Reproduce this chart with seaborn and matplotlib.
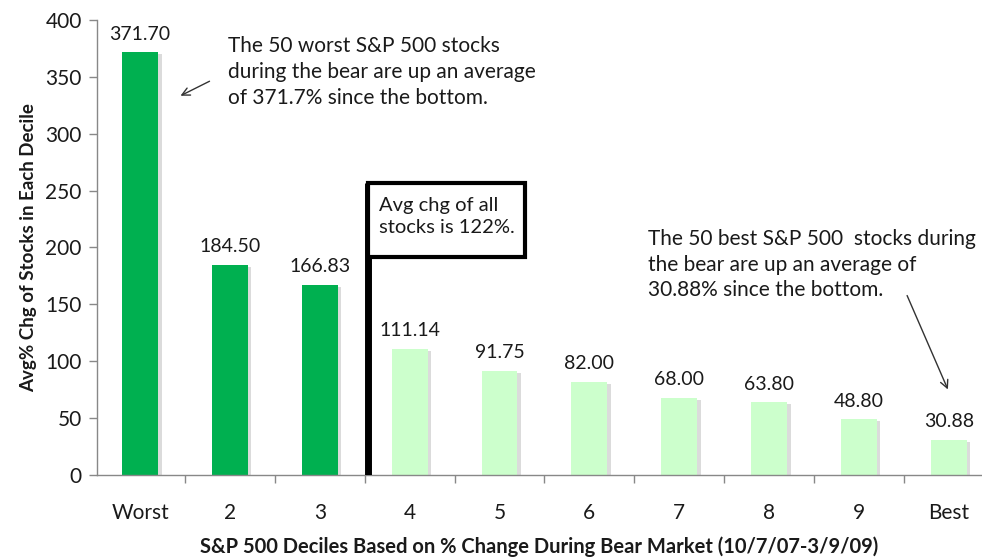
import matplotlib
matplotlib.use("Agg")
import matplotlib.pyplot as plt
import matplotlib.patheffects as pe
from matplotlib.patches import Rectangle
from matplotlib.ticker import FixedLocator
import seaborn as sns
import pandas as pd

categories = ["Worst", "2", "3", "4", "5", "6", "7", "8", "9", "Best"]
values = [371.70, 184.50, 166.83, 111.14, 91.75, 82.00, 68.00, 63.80, 48.80, 30.88]
groups = ["top", "top", "top", "rest", "rest", "rest", "rest", "rest", "rest", "rest"]
value_labels = ["371.70", "184.50", "166.83", "111.14", "91.75", "82.00", "68.00", "63.80", "48.80", "30.88"]
avg_all = 122
yticks = [0, 50, 100, 150, 200, 250, 300, 350, 400]

sns.set_theme(style="white")
plt.rcParams["font.family"] = ["Lato", "DejaVu Sans"]

df = pd.DataFrame({"decile": categories, "chg": values, "group": groups})

fig = plt.figure(figsize=(9.82, 5.58), dpi=100)
ax = fig.add_axes([0.0988, 0.149, 0.9012, 0.815])

sns.barplot(data=df, x="decile", y="chg", hue="group",
            palette={"top": "#00B050", "rest": "#CCFFCC"},
            dodge=False, width=0.4, legend=False, ax=ax, saturation=1)

for p in ax.patches:
    p.set_path_effects([pe.SimplePatchShadow(offset=(2.5, -1.5), shadow_rgbFace="#888888", alpha=0.3), pe.Normal()])
    p.set_edgecolor("none")

for i, (v, lab) in enumerate(zip(values, value_labels)):
    ax.annotate(lab, xy=(i, v), xytext=(0, 7), textcoords="offset points",
                ha="center", va="bottom", fontsize=14, color="#1a1a1a")

ax.set_ylim(0, 400)
ax.set_xlim(-0.48, 9.37)
ax.set_yticks(yticks)
ax.tick_params(axis="y", labelsize=15, length=6, width=1, color="#888888", left=True, pad=5, labelcolor="#1a1a1a")
ax.tick_params(axis="x", which="major", labelsize=15, length=0, pad=20, labelcolor="#1a1a1a")
ax.xaxis.set_minor_locator(FixedLocator([i + 0.5 for i in range(-1, 9)]))
ax.tick_params(axis="x", which="minor", length=6, width=1, color="#888888", bottom=True, direction="out")

for s in ["top", "right"]:
    ax.spines[s].set_visible(False)
for s in ["left", "bottom"]:
    ax.spines[s].set_color("#888888")
    ax.spines[s].set_linewidth(1)

ax.set_ylabel("Avg% Chg of Stocks in Each Decile", fontsize=13.5, fontweight="bold", labelpad=6, color="#1a1a1a")
ax.set_xlabel("S&P 500 Deciles Based on % Change During Bear Market (10/7/07-3/9/09)",
              fontsize=14.5, fontweight="bold", labelpad=10, color="#1a1a1a")

# vertical average marker with box
ax.plot([2.536, 2.536], [0, 256.4], color="black", lw=5, solid_capstyle="butt", zorder=5)
ax.add_patch(Rectangle((2.536, 191.4), 4.283 - 2.536, 256.4 - 191.4, fc="white", ec="black", lw=3, zorder=6))
ax.text(2.66, 244, "Avg chg of all\nstocks is 122%.", ha="left", va="top", fontsize=14.5,
        color="#1a1a1a", linespacing=1.3, zorder=7)

# annotations
ax.text(228 / 982, 1 - 36 / 558, "The 50 worst S&P 500 stocks\nduring the bear are up an average\nof 371.7% since the bottom.",
        transform=fig.transFigure, ha="left", va="top", fontsize=15, color="#1a1a1a", linespacing=1.38)
ax.annotate("", xy=(178 / 982, 1 - 97 / 558), xytext=(212 / 982, 1 - 80 / 558),
            xycoords="figure fraction", textcoords="figure fraction",
            arrowprops=dict(arrowstyle="->", color="#333333", lw=1, mutation_scale=14))

ax.text(648 / 982, 1 - 229 / 558, "The 50 best S&P 500  stocks during\nthe bear are up an average of\n30.88% since the bottom.",
        transform=fig.transFigure, ha="left", va="top", fontsize=15, color="#1a1a1a", linespacing=1.35)
ax.annotate("", xy=(949 / 982, 1 - 392 / 558), xytext=(906 / 982, 1 - 293 / 558),
            xycoords="figure fraction", textcoords="figure fraction",
            arrowprops=dict(arrowstyle="->", color="#333333", lw=1, mutation_scale=14))

fig.savefig("out.png", dpi=100)
